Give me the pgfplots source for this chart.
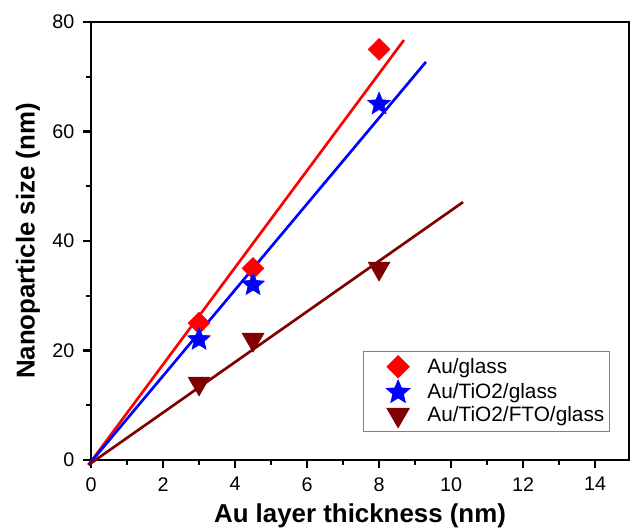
\documentclass[border=0pt]{standalone}
\usepackage{fontspec}
\setmainfont{Liberation Sans}
\usepackage{pgfplots}
\pgfplotsset{compat=1.18}
\definecolor{darkred}{RGB}{128,0,0}

% filled five-pointed star
\pgfdeclareplotmark{fstar}{%
  \pgfpathmoveto{\pgfqpointpolar{90}{\pgfplotmarksize}}%
  \pgfpathlineto{\pgfqpointpolar{126}{0.45\pgfplotmarksize}}%
  \pgfpathlineto{\pgfqpointpolar{162}{\pgfplotmarksize}}%
  \pgfpathlineto{\pgfqpointpolar{198}{0.45\pgfplotmarksize}}%
  \pgfpathlineto{\pgfqpointpolar{234}{\pgfplotmarksize}}%
  \pgfpathlineto{\pgfqpointpolar{270}{0.45\pgfplotmarksize}}%
  \pgfpathlineto{\pgfqpointpolar{306}{\pgfplotmarksize}}%
  \pgfpathlineto{\pgfqpointpolar{342}{0.45\pgfplotmarksize}}%
  \pgfpathlineto{\pgfqpointpolar{18}{\pgfplotmarksize}}%
  \pgfpathlineto{\pgfqpointpolar{54}{0.45\pgfplotmarksize}}%
  \pgfpathclose
  \pgfusepathqfillstroke}

\begin{document}
\begin{tikzpicture}
\useasboundingbox (0,0) rectangle (472.5pt,395.25pt);
\begin{axis}[
  at={(68.25pt,50.25pt)}, anchor=south west,
  scale only axis, width=403.5pt, height=328.5pt,
  xmin=0, xmax=14.94, ymin=0, ymax=80,
  clip=false,
  xtick={0,2,...,14}, minor xtick={1,3,...,13},
  ytick={0,20,...,80}, minor ytick={10,30,...,70},
  xtick pos=left, ytick pos=left,
  tick align=outside,
  major tick length=6pt, minor tick length=3.5pt,
  every tick/.style={black, line width=1.8pt},
  axis line style={line width=2.2pt},
  tick label style={font=\fontsize{14.8}{16}\selectfont},
  xticklabel style={yshift=-3.5pt},
  yticklabel style={xshift=-3pt},
  /pgf/number format/assume math mode=true,
  xlabel={Au layer thickness (nm)},
  ylabel={Nanoparticle size (nm)},
  label style={font=\fontsize{19.4}{22}\selectfont\bfseries},
  xlabel style={at={(axis description cs:0.5,-0.128)}, anchor=center},
  ylabel style={at={(axis description cs:-0.117,0.5)}, anchor=center},
  legend style={at={(0.965,0.064)}, anchor=south east,
    draw=gray, line width=0.8pt,
    font=\fontsize{15.6}{18}\selectfont,
    nodes={inner ysep=1pt}, row sep=2pt, column sep=3pt,
    inner xsep=2pt, inner ysep=3pt},
  legend image code/.code={%
    \path[draw=none, fill=none] (-24pt,0pt) -- (17pt,0pt);
    \draw[#1] plot coordinates {(0pt,0pt)};},
  legend cell align=left,
]
% fitted lines
\addplot[red, line width=2pt, forget plot] coordinates {(-0.07,-0.9) (8.69,76.7)};
\addplot[blue, line width=2pt, forget plot] coordinates {(-0.07,-0.9) (9.30,72.7)};
\addplot[darkred, line width=2pt, forget plot] coordinates {(-0.07,-0.9) (10.33,47.1)};

% measured points
\addplot[only marks, mark=square*, mark size=5.8pt, red,
  mark options={rotate=45, draw=red, fill=red}]
  coordinates {(3,25) (4.5,35) (8,75)};
\addlegendentry{Au/glass}
\addplot[only marks, mark=fstar, mark size=9pt, blue,
  mark options={draw=blue, fill=blue}]
  coordinates {(3,22) (4.5,32) (8,65)};
\addlegendentry{Au/TiO2/glass}
\addplot[only marks, mark=triangle*, mark size=9.5pt, darkred,
  mark options={rotate=180, draw=darkred, fill=darkred}]
  coordinates {(3,14) (4.5,22) (8,35)};
\addlegendentry{Au/TiO2/FTO/glass}
\end{axis}
\end{tikzpicture}
\end{document}
